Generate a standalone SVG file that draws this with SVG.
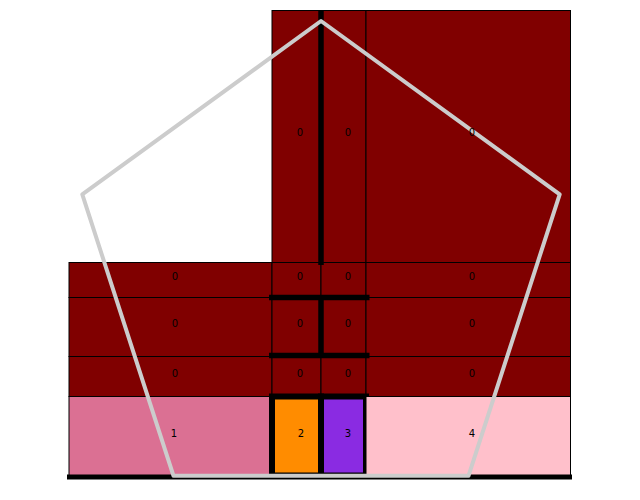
<svg xmlns="http://www.w3.org/2000/svg" width="640" height="500" viewBox="0 0 640 500">
<style>
.cell{fill:#800000;stroke:#000;stroke-width:1}
.lbl{font-family:"DejaVu Sans","Liberation Sans",sans-serif;font-size:10px;fill:#000;text-anchor:middle}
.thick{stroke:#000;stroke-width:5.5;fill:none}
.box{stroke:#000;stroke-width:6}
</style>
<rect width="640" height="500" fill="#fff"/>
<g id="cells">
<g id="c-top-1"><rect class="cell" x="272" y="10.5" width="49" height="252"/></g>
<g id="c-top-2"><rect class="cell" x="321" y="10.5" width="45" height="252"/></g>
<g id="c-top-3"><rect class="cell" x="366" y="10.5" width="204.5" height="252"/></g>
<g id="c-r1-0"><rect class="cell" x="69" y="262.5" width="203" height="35"/></g>
<g id="c-r1-1"><rect class="cell" x="272" y="262.5" width="49" height="35"/></g>
<g id="c-r1-2"><rect class="cell" x="321" y="262.5" width="45" height="35"/></g>
<g id="c-r1-3"><rect class="cell" x="366" y="262.5" width="204.5" height="35"/></g>
<g id="c-r2-0"><rect class="cell" x="69" y="297.5" width="203" height="59"/></g>
<g id="c-r2-1"><rect class="cell" x="272" y="297.5" width="49" height="59"/></g>
<g id="c-r2-2"><rect class="cell" x="321" y="297.5" width="45" height="59"/></g>
<g id="c-r2-3"><rect class="cell" x="366" y="297.5" width="204.5" height="59"/></g>
<g id="c-r3-0"><rect class="cell" x="69" y="356.5" width="203" height="40"/></g>
<g id="c-r3-1"><rect class="cell" x="272" y="356.5" width="49" height="40"/></g>
<g id="c-r3-2"><rect class="cell" x="321" y="356.5" width="45" height="40"/></g>
<g id="c-r3-3"><rect class="cell" x="366" y="356.5" width="204.5" height="40"/></g>
<g id="c-b-1"><rect x="69" y="396.5" width="203" height="79" fill="#db7093" stroke="#000" stroke-width="1"/></g>
<g id="c-b-2"><rect class="box" x="272" y="396.5" width="49" height="79" fill="#ff8c00"/></g>
<g id="c-b-3"><rect class="box" x="321" y="396.5" width="45" height="79" fill="#8a2be2"/></g>
<g id="c-b-4"><rect x="366" y="396.5" width="204.5" height="79" fill="#ffc0cb" stroke="#000" stroke-width="1"/></g>
</g>
<g id="connectors">
<line class="thick" x1="321" y1="10.5" x2="321" y2="265"/>
<line class="thick" x1="321" y1="297.5" x2="321" y2="356"/>
<line class="thick" x1="269" y1="297.5" x2="369.5" y2="297.5"/>
<line class="thick" x1="269" y1="355.5" x2="369.5" y2="355.5"/>
<line x1="67" y1="477" x2="572" y2="477" stroke="#000" stroke-width="5"/>
</g>
<g id="pentagon">
<polygon points="321,21 559.7,194.4 468.5,475.8 173.5,475.8 82.3,194.4" fill="none" stroke="#cccccc" stroke-width="4" stroke-linejoin="round"/>
</g>
<g id="labels">
<text class="lbl" x="300" y="135.5">0</text>
<text class="lbl" x="348" y="135.5">0</text>
<text class="lbl" x="472" y="135.5">0</text>
<text class="lbl" x="175" y="279.5">0</text>
<text class="lbl" x="300" y="279.5">0</text>
<text class="lbl" x="348" y="279.5">0</text>
<text class="lbl" x="472" y="279.5">0</text>
<text class="lbl" x="175" y="326.5">0</text>
<text class="lbl" x="300" y="326.5">0</text>
<text class="lbl" x="348" y="326.5">0</text>
<text class="lbl" x="472" y="326.5">0</text>
<text class="lbl" x="175" y="376.5">0</text>
<text class="lbl" x="300" y="376.5">0</text>
<text class="lbl" x="348" y="376.5">0</text>
<text class="lbl" x="472" y="376.5">0</text>
<text class="lbl" x="174" y="436.5">1</text>
<text class="lbl" x="301" y="436.5">2</text>
<text class="lbl" x="348" y="436.5">3</text>
<text class="lbl" x="472" y="436.5">4</text>
</g>
</svg>
